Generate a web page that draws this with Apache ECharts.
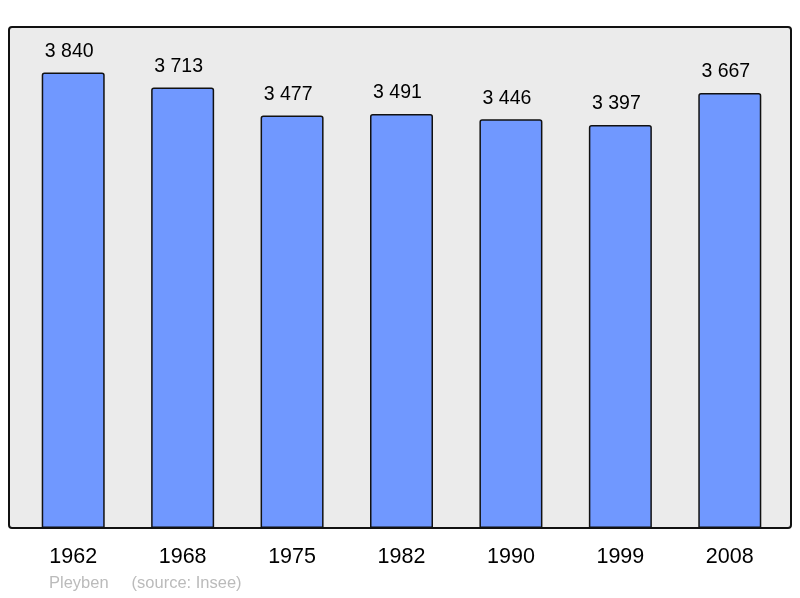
<!DOCTYPE html>
<html>
<head>
<meta charset="utf-8">
<script src="https://cdn.jsdelivr.net/npm/echarts@6/dist/echarts.min.js"></script>
<style>
  html, body { margin: 0; padding: 0; background: #fff; }
  #main { width: 800px; height: 598px; }
</style>
</head>
<body>
<div id="main"></div>
<script>
var years = ['1962', '1968', '1975', '1982', '1990', '1999', '2008'];
var population = [3840, 3713, 3477, 3491, 3446, 3397, 3667];
var yMax = 4224;

function fmt(v) {
    return String(v).replace(/\B(?=(\d{3})+(?!\d))/g, ' ');
}

var myChart = echarts.init(document.getElementById('main'));

var option = {
    animation: false,
    textStyle: { fontFamily: 'Liberation Sans, Arial, sans-serif' },
    graphic: [
        {
            type: 'rect',
            z: -10,
            shape: { x: 9, y: 27, width: 782, height: 501, r: 3 },
            style: { fill: '#ebebeb', stroke: '#111', lineWidth: 2 }
        },
        {
            type: 'text',
            left: 49,
            top: 575,
            style: {
                text: 'Pleyben     (source: Insee)',
                fill: '#bbbbbb',
                font: '16.5px Liberation Sans, Arial, sans-serif'
            }
        }
    ],
    grid: { left: 18.5, top: 27, width: 766, height: 501 },
    xAxis: {
        type: 'category',
        data: years,
        axisLine: { show: false },
        axisTick: { show: false },
        axisLabel: {
            color: '#000',
            fontSize: 21.5,
            margin: 18
        }
    },
    yAxis: {
        type: 'value',
        min: 0,
        max: yMax,
        show: false
    },
    series: [{
        type: 'bar',
        data: population,
        barWidth: 63,
        itemStyle: {
            color: '#7098ff',
            borderColor: '#111',
            borderWidth: 1.5,
            borderRadius: [2, 2, 0, 0]
        },
        label: {
            show: true,
            position: 'top',
            distance: 11,
            offset: [-4, 0],
            color: '#000',
            fontSize: 19.5,
            formatter: function(p) { return fmt(p.value); }
        }
    }]
};

myChart.setOption(option);
</script>
</body>
</html>
